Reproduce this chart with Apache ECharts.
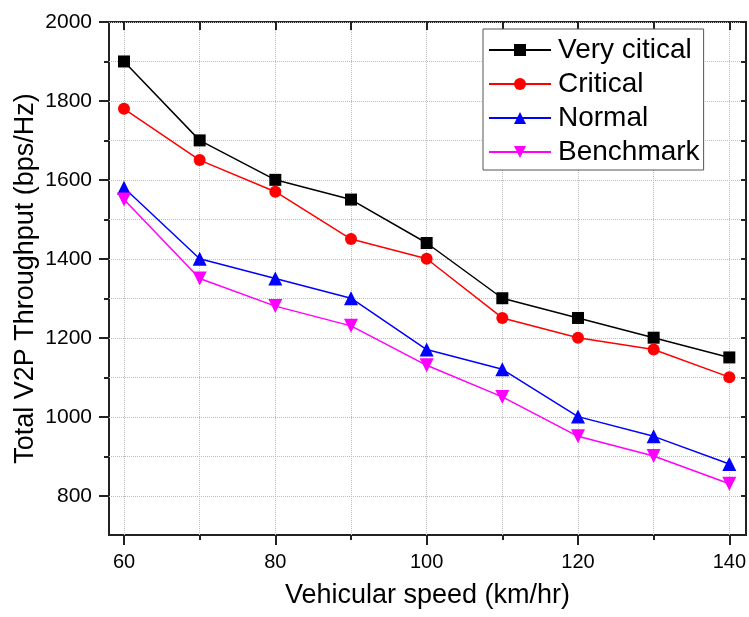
<!DOCTYPE html>
<html>
<head>
<meta charset="utf-8">
<script src="https://cdn.jsdelivr.net/npm/echarts@6/dist/echarts.min.js"></script>
<style>
html, body { margin: 0; padding: 0; background: #fff; }
#main { width: 749px; height: 617px; }
</style>
</head>
<body>
<div id="main"></div>
<script>
// speeds (km/hr) and throughput per scheme
var speeds = [60, 70, 80, 90, 100, 110, 120, 130, 140];
var veryCritical = [1900, 1700, 1600, 1550, 1440, 1300, 1250, 1200, 1150];
var critical = [1780, 1650, 1570, 1450, 1400, 1250, 1200, 1170, 1100];
var normal = [1580, 1400, 1350, 1300, 1170, 1120, 1000, 950, 880];
var benchmark = [1550, 1350, 1280, 1230, 1130, 1050, 950, 900, 830];

function pairs(vals) {
	return speeds.map(function (s, i) { return [s, vals[i]]; });
}

var font = 'Arial, "Liberation Sans", sans-serif';
var axisColor = '#222';
var gridLine = { color: '#bdbdbd', type: 'dotted', width: 1 };
var plain = function (v) { return String(v); };

var myChart = echarts.init(document.getElementById('main'));

myChart.setOption({
	animation : false,
	textStyle : { fontFamily : font },
	legend : {
		orient : 'vertical',
		left : 483,
		top : 29,
		padding : [6, 4, 3, 5],
		itemGap : 4,
		itemWidth : 62,
		itemHeight : 15,
		backgroundColor : '#fff',
		borderColor : '#555',
		borderWidth : 1,
		textStyle : { fontSize : 28, color : '#000', fontFamily : font, lineHeight : 30, padding : [0, 0, 0, 2] },
		data : [ 'Very citical', 'Critical', 'Normal', 'Benchmark' ]
	},
	grid : [
		// frame
		{ left : 109, top : 22, width : 637, height : 513, show : true, borderColor : axisColor, borderWidth : 2 },
		// y scale 800..2000
		{ left : 109, top : 22, width : 637, height : 474 },
		// x scale 60..140
		{ left : 124, top : 22, width : 607, height : 513 }
	],
	xAxis : [
		{
			gridIndex : 0, type : 'value', min : 0, max : 1,
			axisLine : { show : false }, axisTick : { show : false }, axisLabel : { show : false }, splitLine : { show : false },
			name : 'Vehicular speed (km/hr)', nameLocation : 'middle', nameGap : 47,
			nameTextStyle : { fontSize : 27, color : '#000', fontFamily : font }
		},
		{ gridIndex : 1, type : 'value', show : false },
		{
			gridIndex : 2, type : 'value', min : 60, max : 140, interval : 20, position : 'bottom',
			axisLine : { show : false },
			axisTick : { show : true, inside : false, length : 10, lineStyle : { color : axisColor, width : 2 } },
			minorTick : { show : true, splitNumber : 2, length : 5, lineStyle : { color : axisColor, width : 2 } },
			axisLabel : { fontSize : 20, color : '#000', margin : 17, fontFamily : font, formatter : plain },
			splitLine : { show : true, lineStyle : gridLine },
			minorSplitLine : { show : true, lineStyle : gridLine }
		},
		{
			gridIndex : 2, type : 'value', min : 60, max : 140, interval : 10, position : 'top',
			axisLine : { show : false },
			axisTick : { show : true, inside : true, length : 8, lineStyle : { color : axisColor, width : 2 } },
			axisLabel : { show : false },
			splitLine : { show : false }
		}
	],
	yAxis : [
		{
			gridIndex : 0, type : 'value', min : 0, max : 1,
			axisLine : { show : false }, axisTick : { show : false }, axisLabel : { show : false }, splitLine : { show : false },
			name : 'Total V2P Throughput (bps/Hz)', nameLocation : 'middle', nameGap : 70,
			nameTextStyle : { fontSize : 27, color : '#000', fontFamily : font }
		},
		{
			gridIndex : 1, type : 'value', min : 800, max : 2000, interval : 200, position : 'left',
			axisLine : { show : false },
			axisTick : { show : true, inside : false, length : 10, lineStyle : { color : axisColor, width : 2 } },
			minorTick : { show : true, splitNumber : 2, length : 5, lineStyle : { color : axisColor, width : 2 } },
			axisLabel : { fontSize : 21, color : '#000', margin : 17, fontFamily : font, formatter : plain },
			splitLine : { show : true, lineStyle : gridLine },
			minorSplitLine : { show : true, lineStyle : gridLine }
		},
		{
			gridIndex : 1, type : 'value', min : 800, max : 2000, interval : 100, position : 'right',
			axisLine : { show : false },
			axisTick : { show : true, inside : true, length : 5, lineStyle : { color : axisColor, width : 2 } },
			axisLabel : { show : false },
			splitLine : { show : false }
		},
		{ gridIndex : 2, type : 'value', min : 700, max : 2000, show : false }
	],
	series : [
		{
			name : 'Very citical', type : 'line', xAxisIndex : 2, yAxisIndex : 3,
			data : pairs(veryCritical), symbol : 'rect', symbolSize : 12,
			lineStyle : { color : '#000', width : 1.5 }, itemStyle : { color : '#000' }
		},
		{
			name : 'Critical', type : 'line', xAxisIndex : 2, yAxisIndex : 3,
			data : pairs(critical), symbol : 'circle', symbolSize : 12,
			lineStyle : { color : '#ff0000', width : 1.5 }, itemStyle : { color : '#ff0000' }
		},
		{
			name : 'Normal', type : 'line', xAxisIndex : 2, yAxisIndex : 3,
			data : pairs(normal), symbol : 'triangle', symbolSize : 14,
			lineStyle : { color : '#0000ff', width : 1.5 }, itemStyle : { color : '#0000ff' }
		},
		{
			name : 'Benchmark', type : 'line', xAxisIndex : 2, yAxisIndex : 3,
			data : pairs(benchmark), symbol : 'path://M0,0 L10,0 L5,9 Z', symbolSize : 14,
			lineStyle : { color : '#ff00ff', width : 1.5 }, itemStyle : { color : '#ff00ff' }
		}
	]
});
</script>
</body>
</html>
